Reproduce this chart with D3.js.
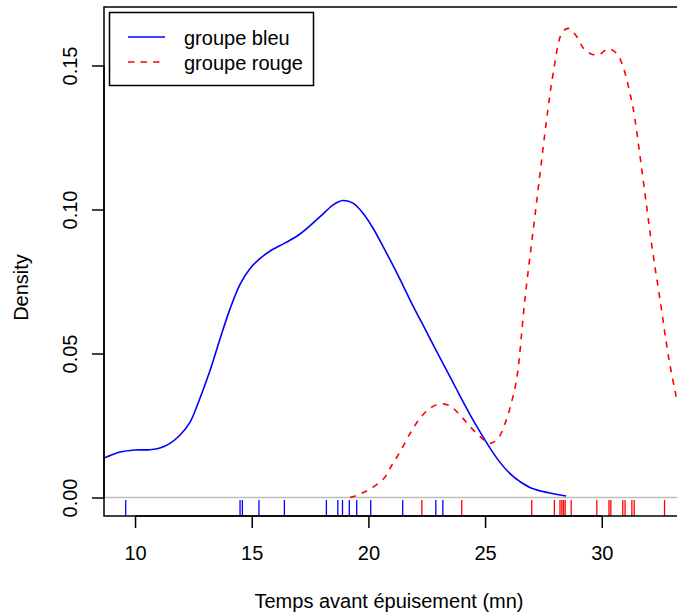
<!DOCTYPE html>
<html lang="fr">
  <head>
    <meta charset="utf-8">
    <title>Densites groupe bleu / rouge</title>
    <script src="https://d3js.org/d3.v7.min.js"></script>
    <style>
      body { margin: 0; background: white; }
      text { font-family: "Liberation Sans", Arial, Helvetica, sans-serif; font-size: 20px; fill: black; }
    </style>
  </head>
<body>
<script>
// density curve of the blue group (x in mn, y density)
var bleuX = [8.67, 9.36, 10.0, 10.64, 11.07, 11.5, 11.93, 12.36, 12.7, 13.21, 13.64, 14.07, 14.5, 14.93,
             15.36, 15.79, 16.43, 17.07, 17.93, 18.49, 18.91, 19.34, 19.77, 20.2, 20.63, 21.06, 21.49,
             21.91, 22.43, 22.99, 23.59, 23.93, 24.36, 24.79, 25.21, 25.64, 26.07, 26.5, 27.06, 28.47];
var bleuY = [0.0137, 0.0158, 0.0165, 0.0166, 0.0172, 0.0188, 0.0217, 0.0262, 0.0327, 0.0440, 0.0550, 0.0655, 0.0740, 0.0795,
             0.0830, 0.0856, 0.0884, 0.0915, 0.0975, 0.1016, 0.1031, 0.1022, 0.0987, 0.0935, 0.0871, 0.0805, 0.0735,
             0.0665, 0.0585, 0.0497, 0.0405, 0.0352, 0.0287, 0.0227, 0.0172, 0.0122, 0.0083, 0.0055, 0.0030, 0.0005];

// density curve of the red group
var rougeX = [19.21, 19.64, 20.07, 20.67, 21.01, 21.36, 21.79, 22.21, 22.64, 23.07, 23.5, 23.93, 24.36, 24.79,
              25.21, 25.56, 25.86, 26.16, 26.37, 26.71, 27.14, 27.69, 27.93, 28.29, 28.57, 28.93, 29.21, 29.5,
              29.86, 30.27, 30.64, 30.86, 31.04, 31.21, 31.36, 31.86, 32.16, 32.5, 32.86, 33.19, 33.23];
var rougeY = [0.0, 0.0012, 0.0030, 0.0067, 0.0113, 0.0159, 0.0223, 0.0275, 0.0310, 0.0325, 0.0318, 0.0286, 0.0246, 0.0211,
              0.0188, 0.0206, 0.0258, 0.0339, 0.0420, 0.0690, 0.0980, 0.1345, 0.1478, 0.1612, 0.1629, 0.1600, 0.1560, 0.1542,
              0.1536, 0.1558, 0.1542, 0.1508, 0.1461, 0.1403, 0.1345, 0.1050, 0.0866, 0.0686, 0.0489, 0.0350, 0.0335];

// rug (raw observations)
var rugBleu = [9.60, 14.50, 14.60, 15.31, 16.40, 18.20, 18.69, 18.89, 19.18, 19.50, 20.10, 21.47, 22.89, 23.19];
var rugRouge = [22.29, 24.00, 27.00, 27.97, 28.21, 28.29, 28.36, 28.43, 28.69, 29.79, 30.31, 30.39, 30.90, 31.00,
                31.29, 31.39, 32.69];

var xTicks = [10, 15, 20, 25, 30];
var yTicks = [0.00, 0.05, 0.10, 0.15];
var legendLabels = ["groupe bleu", "groupe rouge"];
var legendColors = ["#0000FF", "#FF0000"];

var width = 677, height = 614;
// plot region (box) in pixels; the right edge runs just past the window
var pLeft = 104, pRight = 679, pTop = 7, pBottom = 516;

var svg = d3.select("body").append("svg")
  .attr("width", width)
  .attr("height", height);

var x = d3.scaleLinear().domain([8.67, 33.31]).range([pLeft, pRight]);
var y = d3.scaleLinear().domain([-0.00642, 0.17031]).range([pBottom, pTop]);

svg.append("clipPath").attr("id", "plotclip")
  .append("rect")
  .attr("x", pLeft).attr("y", pTop)
  .attr("width", pRight - pLeft).attr("height", pBottom - pTop);

var plot = svg.append("g").attr("clip-path", "url(#plotclip)");

// zero line
plot.append("line")
  .attr("x1", pLeft).attr("x2", pRight)
  .attr("y1", y(0)).attr("y2", y(0))
  .attr("stroke", "#BEBEBE")
  .attr("stroke-width", 1.5);

var line = d3.line()
  .x(function(d) { return x(d[0]); })
  .y(function(d) { return y(d[1]); })
  .curve(d3.curveCatmullRom);

plot.append("path")
  .datum(d3.zip(bleuX, bleuY))
  .attr("d", line)
  .attr("fill", "none")
  .attr("stroke", "#0000FF")
  .attr("stroke-width", 1.6);

plot.append("path")
  .datum(d3.zip(rougeX, rougeY))
  .attr("d", line)
  .attr("fill", "none")
  .attr("stroke", "#FF0000")
  .attr("stroke-width", 1.6)
  .attr("stroke-dasharray", "6,6.5");

// rugs, drawn up from the bottom of the box
var rugLen = 16;
plot.selectAll(".rugb").data(rugBleu).enter().append("line")
  .attr("x1", function(d) { return x(d); }).attr("x2", function(d) { return x(d); })
  .attr("y1", pBottom).attr("y2", pBottom - rugLen)
  .attr("stroke", "#0000FF").attr("stroke-width", 1.3);
plot.selectAll(".rugr").data(rugRouge).enter().append("line")
  .attr("x1", function(d) { return x(d); }).attr("x2", function(d) { return x(d); })
  .attr("y1", pBottom).attr("y2", pBottom - rugLen)
  .attr("stroke", "#FF0000").attr("stroke-width", 1.3);

// axes
var xAxis = d3.axisBottom(x).tickValues(xTicks).tickSizeInner(12).tickSizeOuter(0)
  .tickFormat(d3.format("d"));
var gx = svg.append("g").attr("transform", "translate(0," + pBottom + ")").call(xAxis);
gx.select(".domain").attr("d", "M" + x(10) + ",0H" + x(30)).attr("stroke-width", 1.5);
gx.selectAll(".tick line").attr("stroke-width", 1.5);
gx.selectAll("text").attr("font-size", 20).attr("font-family", null).attr("dy", null).attr("y", 44);

var yAxis = d3.axisLeft(y).tickValues(yTicks).tickSizeInner(12).tickSizeOuter(0)
  .tickFormat(d3.format(".2f"));
var gy = svg.append("g").attr("transform", "translate(" + pLeft + ",0)").call(yAxis);
gy.select(".domain").attr("d", "M0," + y(0) + "V" + y(0.15)).attr("stroke-width", 1.5);
gy.selectAll(".tick line").attr("stroke-width", 1.5);
gy.selectAll("text")
  .attr("font-size", 20).attr("font-family", null)
  .attr("x", null).attr("dy", null)
  .attr("text-anchor", "middle")
  .attr("transform", "translate(-27.5,0) rotate(-90)");

// box
svg.append("rect")
  .attr("x", pLeft).attr("y", pTop)
  .attr("width", pRight - pLeft).attr("height", pBottom - pTop)
  .attr("fill", "none").attr("stroke", "black").attr("stroke-width", 1.5);

// axis titles
svg.append("text")
  .attr("x", 389).attr("y", 608)
  .attr("text-anchor", "middle")
  .text("Temps avant épuisement (mn)");

svg.append("text")
  .attr("transform", "translate(27.5," + ((pTop + pBottom) / 2 + 26) + ") rotate(-90)")
  .attr("text-anchor", "middle")
  .text("Density");

// legend
var leg = svg.append("g");
leg.append("rect")
  .attr("x", 109.5).attr("y", 12.5)
  .attr("width", 204).attr("height", 73)
  .attr("fill", "white").attr("stroke", "black").attr("stroke-width", 1.5);

leg.selectAll(".lk").data(legendLabels).enter().append("line")
  .attr("x1", 128).attr("x2", 165)
  .attr("y1", function(d, i) { return 37 + i * 25; })
  .attr("y2", function(d, i) { return 37 + i * 25; })
  .attr("stroke", function(d, i) { return legendColors[i]; })
  .attr("stroke-width", 1.6)
  .attr("stroke-dasharray", function(d, i) { return i == 1 ? "6.5,6" : null; });

leg.selectAll(".lt").data(legendLabels).enter().append("text")
  .attr("x", 184)
  .attr("y", function(d, i) { return 44.5 + i * 25; })
  .text(function(d) { return d; });
</script>
</body>
</html>
